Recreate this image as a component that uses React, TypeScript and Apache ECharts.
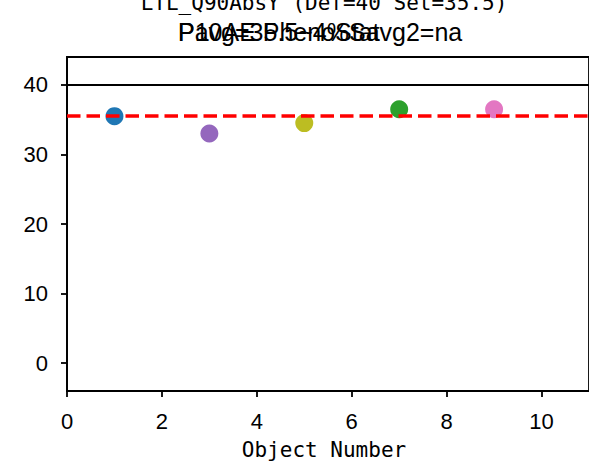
import React, { useEffect, useRef } from "react";
import * as echarts from "echarts";

const objectNumbers = [1, 3, 5, 7, 9];
const values = [35.5, 33, 34.5, 36.5, 36.5];
const pointColors = ["#1f77b4", "#9467bd", "#bcbd22", "#2ca02c", "#e377c2"];
const defaultLimit = 40;
const setLimit = 35.5;
const xTicks = [0, 2, 4, 6, 8, 10];
const yTicks = [0, 10, 20, 30, 40];
const titleTop = "LTL_Q90AbsY (Def=40 Set=35.5)";
const titleA = "P10AE PhenoStat";
const titleB = "Pavg=35.5~4%Savg2=na";
const xName = "Object Number";

const tickFont = "'Liberation Sans', Arial, sans-serif";
const monoFont = "'DejaVu Sans Mono', monospace";

export default function App() {
  const ref = useRef<HTMLDivElement>(null);
  useEffect(() => {
    if (!ref.current) return;
    const chart = echarts.init(ref.current, undefined, { renderer: "svg" });
    const scatterSeries = objectNumbers.map((x, i) => ({
      type: "scatter",
      data: [[x, values[i]]],
      symbolSize: 18,
      itemStyle: { color: pointColors[i], opacity: 1 },
      z: 2,
    }));
    chart.setOption({
      animation: false,
      backgroundColor: "#ffffff",
      grid: { left: 67, top: 57, width: 525, height: 334, show: true, borderColor: "#000", borderWidth: 1.8, backgroundColor: "transparent" },
      xAxis: {
        type: "value",
        min: 0,
        max: 11,
        interval: 2,
        axisLine: { show: true, onZero: false, lineStyle: { color: "#000", width: 1.8 } },
        axisTick: { show: true, length: 6, customValues: xTicks, lineStyle: { color: "#000", width: 1.8 } },
        axisLabel: { customValues: xTicks, fontFamily: tickFont, fontSize: 22, color: "#000", margin: 19 },
        splitLine: { show: false },
      },
      yAxis: {
        type: "value",
        min: -4,
        max: 44,
        axisLine: { show: true, onZero: false, lineStyle: { color: "#000", width: 1.8 } },
        axisTick: { show: true, length: 6, customValues: yTicks, lineStyle: { color: "#000", width: 1.8 } },
        axisLabel: { customValues: yTicks, fontFamily: tickFont, fontSize: 22, color: "#000", margin: 19 },
        splitLine: { show: false },
      },
      graphic: [
        { type: "text", x: 324, y: 3, style: { text: titleTop, font: `21px ${monoFont}`, fill: "#000", align: "center", verticalAlign: "middle" } },
        { type: "text", x: 178, y: 32, style: { text: titleA, font: `25px ${tickFont}`, fill: "#000", align: "left", verticalAlign: "middle" } },
        { type: "text", x: 178, y: 32, style: { text: titleB, font: `25px ${tickFont}`, fill: "#000", align: "left", verticalAlign: "middle" } },
        { type: "text", x: 324, y: 450, style: { text: xName, font: `21px ${monoFont}`, fill: "#000", align: "center", verticalAlign: "middle" } },
      ],
      series: [
        ...scatterSeries,
        {
          type: "line",
          data: [],
          z: 5,
          markLine: {
            silent: true,
            symbol: ["none", "none"],
            label: { show: false },
            data: [
              { yAxis: defaultLimit, lineStyle: { color: "#000", width: 2.2, type: "solid" } },
              { yAxis: setLimit, lineStyle: { color: "#ff0000", width: 3.5, type: [13.5, 6] } },
            ],
          },
        },
      ],
    });
    return () => chart.dispose();
  }, []);
  return <div ref={ref} style={{ width: 589, height: 466, position: "absolute", left: 0, top: 0 }} />;
}
